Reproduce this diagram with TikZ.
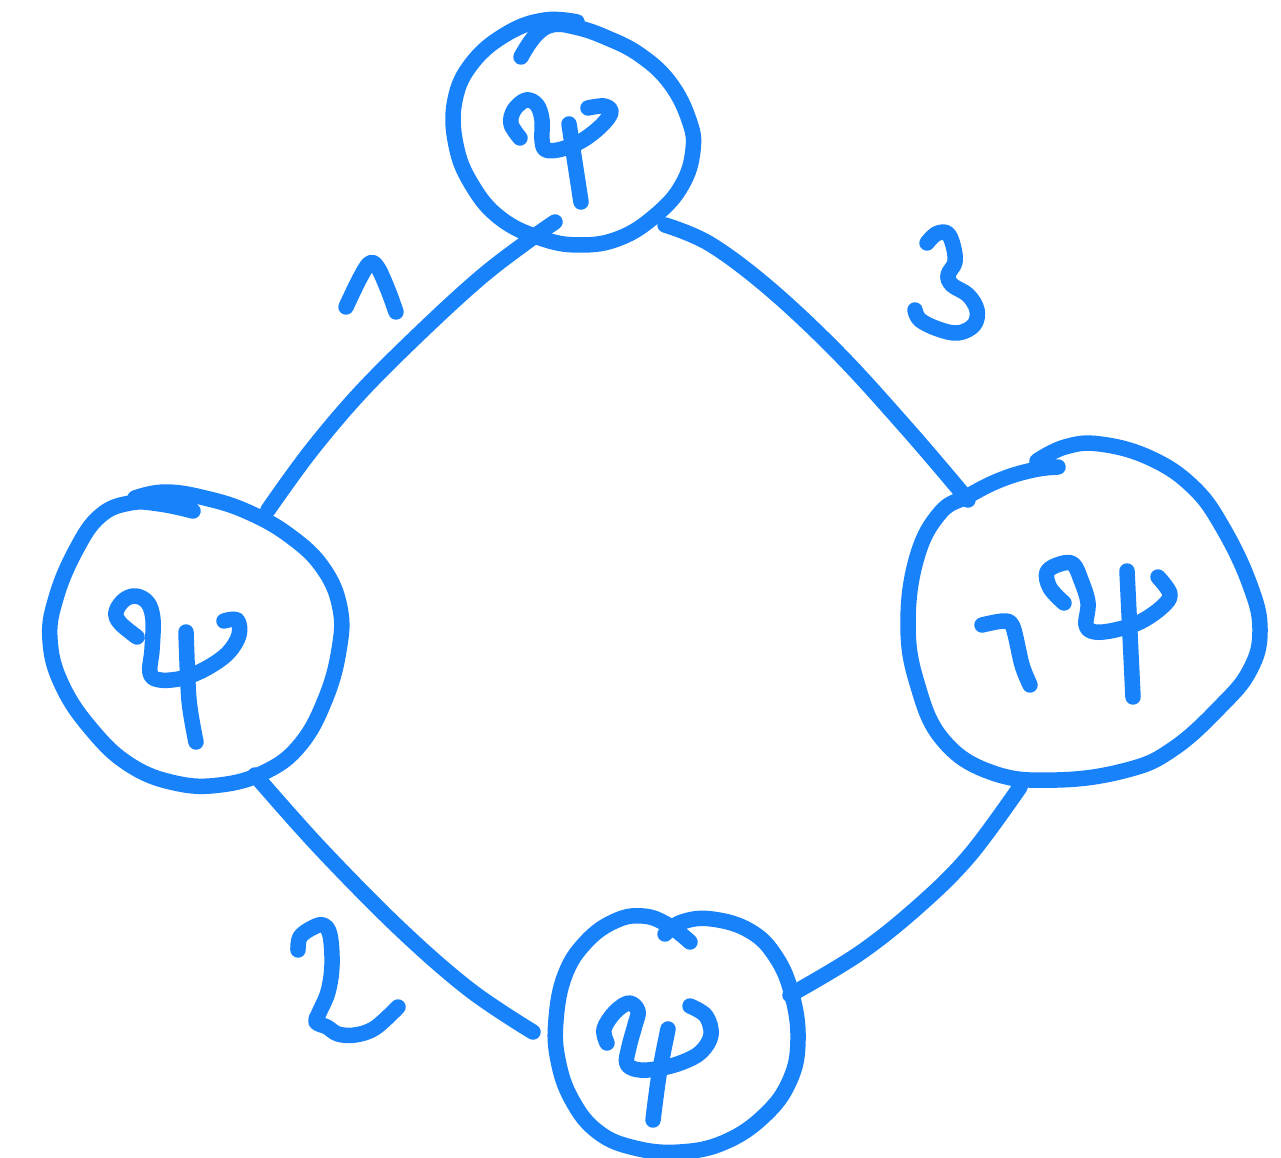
\documentclass[tikz,border=0pt]{standalone}
\definecolor{ink}{HTML}{1882FB}
\begin{document}
\begin{tikzpicture}[x=0.02cm,y=-0.02cm,
  pen/.style={draw=ink,line width=0.31cm,line cap=round,line join=round},
  blob/.style={circle,minimum size=4.6cm,inner sep=0pt}]
\useasboundingbox (0,0) rectangle (1281,1158);
% invisible named nodes for the four blobs
\node[blob] (top) at (575,133) {};
\node[blob] (left) at (197,640) {};
\node[blob] (right) at (1085,615) {};
\node[blob] (bottom) at (677,1035) {};
% connector end points
\coordinate (e1s) at (268,510); \coordinate (e1e) at (555,222);
\coordinate (e3s) at (665,225); \coordinate (e3e) at (968,500);
\coordinate (e4s) at (1020,787); \coordinate (e4e) at (790,995);
\coordinate (e2s) at (255,775); \coordinate (e2e) at (533,1032);
% top blob
\draw[pen] plot[smooth,tension=0.7] coordinates {(521,57) (535,36) (552,25) (575,27) (605,37) (640,55) (670,83) (689,120) (693,150) (682,185) (656,215) (620,238) (580,245) (540,238) (500,218) (472,185) (456,145) (455,100) (473,62) (508,33) (545,20) (577,22)};
\draw[pen] plot[smooth,tension=0.6] coordinates {(520,138) (511,124) (514,110) (526,100) (537,105) (542,120) (542,140) (546,150) (562,149) (583,140) (602,125) (611,112) (604,106) (588,108)};
\draw[pen] (569,124) -- (581,202);
% left blob
\draw[pen] plot[smooth,tension=0.7] coordinates {(135,498) (165,492) (205,498) (248,512) (290,536) (323,568) (340,608) (339,650) (325,700) (300,745) (265,772) (220,785) (175,783) (130,765) (92,730) (62,685) (50,640) (56,598) (76,550) (100,516) (130,503) (160,504) (193,511)};
\draw[pen] plot[smooth,tension=0.6] coordinates {(137,637) (120,623) (116,612) (124,600) (136,596) (148,603) (153,620) (152,650) (150,673) (160,680) (183,678) (207,668) (228,653) (239,635) (237,620) (224,621)};
\draw[pen] plot[smooth] coordinates {(186,632) (189,700) (196,742)};
% right blob
\draw[pen] plot[smooth,tension=0.7] coordinates {(1037,461) (1065,447) (1100,444) (1150,458) (1193,487) (1223,528) (1250,585) (1260,630) (1250,670) (1220,707) (1173,749) (1127,770) (1057,780) (993,773) (943,740) (917,683) (908,623) (917,557) (940,513) (968,496) (1000,480) (1033,470) (1058,467)};
\draw[pen] plot[smooth,tension=0.5] coordinates {(982,625) (1004,621) (1013,627) (1022,665) (1030,685)};
\draw[pen] plot[smooth,tension=0.6] coordinates {(1064,603) (1050,588) (1047,572) (1060,564) (1073,564) (1081,580) (1088,603) (1086,625) (1095,632) (1115,630) (1140,622) (1162,607) (1170,594) (1158,577)};
\draw[pen] (1127,571) -- (1133,697);
% bottom blob
\draw[pen] plot[smooth,tension=0.7] coordinates {(665,934) (682,922) (712,919) (750,931) (776,957) (792,995) (798,1040) (790,1080) (765,1115) (725,1142) (680,1152) (635,1148) (598,1132) (572,1100) (558,1060) (556,1020) (565,975) (586,942) (615,921) (643,916) (668,925) (690,942)};
\draw[pen] plot[smooth,tension=0.6] coordinates {(607,1043) (604,1029) (615,1012) (629,1003) (638,1011) (635,1025) (629,1047) (627,1064) (640,1070) (662,1068) (683,1062) (701,1052) (711,1035) (706,1016) (690,1006)};
\draw[pen] plot[smooth] coordinates {(668,1029) (659,1075) (653,1120)};
% connectors
\draw[pen] plot[smooth,tension=0.6] coordinates {(e1s) (310,452) (360,393) (420,333) (480,278) (528,241) (e1e)};
\draw[pen] plot[smooth,tension=0.6] coordinates {(e3s) (710,244) (770,289) (840,355) (910,432) (e3e)};
\draw[pen] plot[smooth,tension=0.6] coordinates {(e4s) (970,855) (920,905) (860,953) (e4e)};
\draw[pen] plot[smooth,tension=0.6] coordinates {(e2s) (320,848) (400,929) (470,990) (e2e)};
% edge labels (handwritten)
\draw[pen] plot[smooth,tension=0.6] coordinates {(346,307) (360,278) (370,263) (378,268) (388,290) (396,312)};
\draw[pen] plot[smooth,tension=0.6] coordinates {(927,243) (936,234) (947,233) (953,245) (955,262) (948,275) (952,285) (968,295) (977,310) (974,325) (958,333) (938,329) (920,320) (915,310)};
\draw[pen] plot[smooth,tension=0.6] coordinates {(298,950) (300,937) (312,928) (323,925) (330,935) (332,965) (328,992) (319,1013) (316,1022) (327,1027) (338,1034) (355,1035) (375,1028) (398,1007)};
\end{tikzpicture}
\end{document}
